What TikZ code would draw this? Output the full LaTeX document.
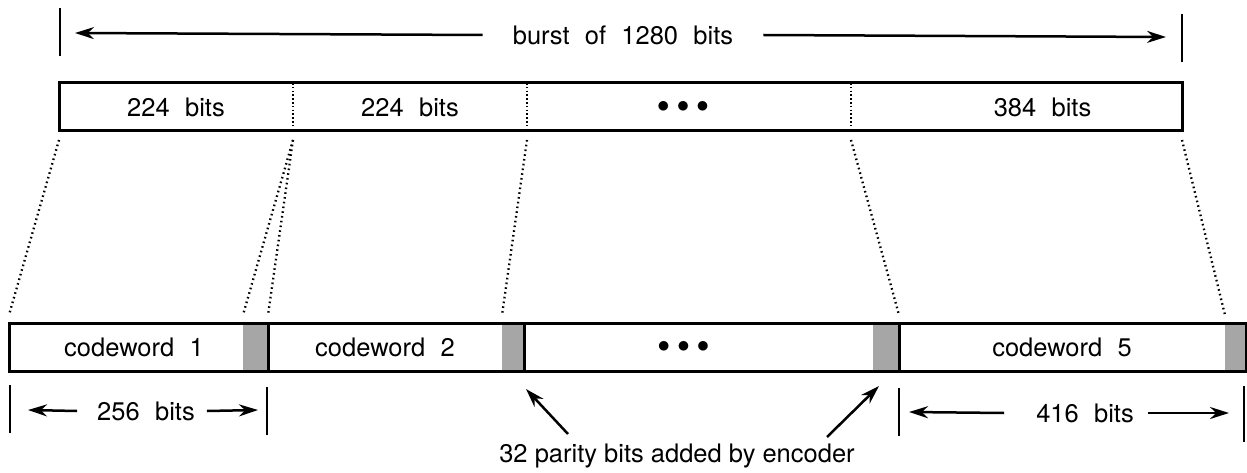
\documentclass[tikz,border=0pt]{standalone}
\usepackage{fontspec}
\setmainfont{TeX Gyre Heros}
\usetikzlibrary{arrows.meta}
\newcommand{\gap}{\hspace{0.6em}}
\newcommand{\bigdots}{{\fontsize{36}{36}\selectfont$\bullet$\hspace{0.2em}$\bullet$\hspace{0.2em}$\bullet$}}
\begin{document}
\begin{tikzpicture}[x=1pt,y=1pt,
  lbl/.style={font=\fontsize{25.5}{28}\selectfont, inner sep=0pt},
  seg/.style={minimum height=48pt, inner sep=0pt, outer sep=0pt, anchor=west},
  frame/.style={line width=3pt},
  divider/.style={line width=2.2pt, dash pattern=on 1.6pt off 2.2pt},
  proj/.style={line width=2.3pt, dash pattern=on 1.6pt off 3.2pt},
  tick/.style={line width=2.8pt},
  arr/.style={line width=2.5pt, -{Stealth[length=19pt,width=12pt]}},
  parity/.style={fill=black!35}
]
\useasboundingbox (0,0) rectangle (1247,-473);

% burst dimension
\coordinate (BL) at (60,-32);
\coordinate (BR) at (1182,-38);
\draw[tick] ([yshift=24]BL) -- ([yshift=-24]BL);
\draw[tick] ([yshift=24]BR) -- ([yshift=-24]BR);
\node[lbl] (burst) at (623,-35) {burst\gap of\gap 1280\gap bits};
\coordinate (BLa) at (75,-33);
\coordinate (BRa) at (1166,-37);
\draw[arr] ([xshift=-30]burst.west) -- (BLa);
\draw[arr] ([xshift=30]burst.east) -- (BRa);

% top row
\node[seg, minimum width=234pt] (t1) at (59,-107) {};
\node[seg, minimum width=234pt] (t2) at (t1.east) {};
\node[seg, minimum width=324pt] (t3) at (t2.east) {};
\node[seg, minimum width=331pt] (t4) at (t3.east) {};
\node[lbl] at (t1.center) {224\gap bits};
\node[lbl] at (t2.center) {224\gap bits};
\node[lbl] at ([xshift=-6]t3.center) {\bigdots};
\node[lbl] at ([xshift=26]t4.center) {384\gap bits};
\draw[frame] (t1.north west) rectangle (t4.south east);
\draw[divider] (t1.north east) -- (t1.south east);
\draw[divider] (t2.north east) -- (t2.south east);
\draw[divider] (t3.north east) -- (t3.south east);

% bottom row
\node[seg, minimum width=234pt] (c1) at (9,-347) {};
\node[seg, minimum width=25pt, parity] (p1) at (c1.east) {};
\node[seg, minimum width=234pt] (c2) at (p1.east) {};
\node[seg, minimum width=22pt, parity] (p2) at (c2.east) {};
\node[seg, minimum width=349pt] (c3) at (p2.east) {};
\node[seg, minimum width=26pt, parity] (p3) at (c3.east) {};
\node[seg, minimum width=326pt] (c5) at (p3.east) {};
\node[seg, minimum width=21pt, parity] (p5) at (c5.east) {};
\node[lbl] at ([xshift=8]c1.center) {codeword\gap 1};
\node[lbl] at (c2.center) {codeword\gap 2};
\node[lbl] at ([xshift=-15]c3.center) {\bigdots};
\node[lbl] at (c5.center) {codeword\gap 5};
\draw[frame] (c1.north west) rectangle (p5.south east);
\draw[frame] (p1.north east) -- (p1.south east);
\draw[frame] (p2.north east) -- (p2.south east);
\draw[frame] (p3.north east) -- (p3.south east);

% projection lines
\draw[proj] ([yshift=-9]t1.south west) -- ([yshift=8]c1.north west);
\draw[proj] ([yshift=-9]t1.south east) -- ([yshift=8]p1.north west);
\draw[proj] ([yshift=-9]t1.south east) -- ([yshift=8]p1.north east);
\draw[proj] ([yshift=-9]t2.south east) -- ([yshift=8]p2.north west);
\draw[proj] ([yshift=-9]t3.south east) -- ([yshift=8]p3.north east);
\draw[proj] ([yshift=-9]t4.south east) -- ([yshift=8]p5.north west);

% 256 bits dimension
\coordinate (D1) at (10,-409);
\coordinate (D2) at (267,-411);
\draw[tick] ([yshift=24]D1) -- ([yshift=-24]D1);
\draw[tick] ([yshift=24]D2) -- ([yshift=-24]D2);
\node[lbl] (d256) at (146,-411) {256\gap bits};
\coordinate (D1a) at (28,-410);
\coordinate (D2a) at (258,-410);
\draw[arr] ([xshift=-20]d256.west) -- (D1a);
\draw[arr] ([xshift=12]d256.east) -- (D2a);

% 416 bits dimension
\coordinate (E1) at (899,-412);
\coordinate (E2) at (1244,-414);
\draw[tick] ([yshift=24]E1) -- ([yshift=-24]E1);
\draw[tick] ([yshift=28]E2) -- ([yshift=-28]E2);
\node[lbl] (d416) at (1085,-413) {416\gap bits};
\coordinate (E1a) at (909,-412);
\coordinate (E2a) at (1229,-413);
\draw[arr] ([xshift=-32]d416.west) -- (E1a);
\draw[arr] ([xshift=14]d416.east) -- (E2a);

% parity note
\node[lbl] (note) at (677,-456) {32 parity bits added by encoder};
\coordinate (n1) at (568,-434);
\coordinate (n2) at (827,-437);
\draw[arr] (n1) -- ([xshift=2,yshift=-18]p2.south east);
\draw[arr] (n2) -- ([xshift=-20,yshift=-15]p3.south east);
\end{tikzpicture}
\end{document}
